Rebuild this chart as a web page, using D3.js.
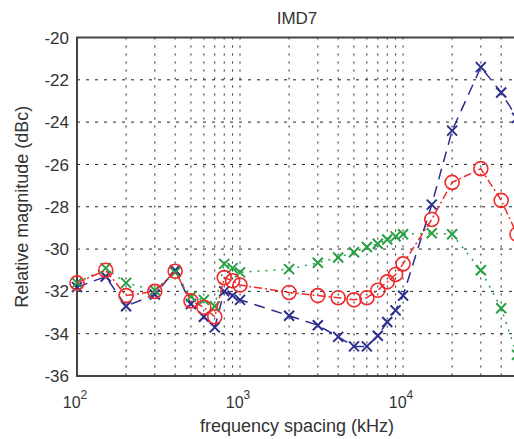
<!DOCTYPE html>
<html>
<head>
<meta charset="utf-8">
<script src="https://cdn.jsdelivr.net/npm/d3@7"></script>
<style>
  body { margin: 0; background: #fff; }
  svg { display: block; font-family: "Liberation Sans", Arial, sans-serif; }
</style>
</head>
<body>
<div id="root"></div>
<script>
const width = 514
const height = 439

// frequency spacing (kHz)
const freq = [100, 150, 200, 300, 400, 500, 600, 700, 800, 900, 1000,
  2000, 3000, 4000, 5000, 6000, 7000, 8000, 9000, 10000,
  15000, 20000, 30000, 40000, 50000]

const blueVals = [-31.8, -31.3, -32.7, -32.15, -31.0, -32.6, -33.2, -33.7, -32.0, -32.2, -32.4,
  -33.15, -33.6, -34.15, -34.6, -34.6, -34.1, -33.45, -32.9, -32.2,
  -27.9, -24.4, -21.4, -22.6, -23.8]
const redVals = [-31.6, -31.0, -32.2, -32.0, -31.05, -32.45, -32.75, -33.2, -31.35, -31.5, -31.7,
  -32.05, -32.2, -32.3, -32.4, -32.3, -31.95, -31.55, -31.2, -30.7,
  -28.6, -26.85, -26.2, -27.7, -29.3]
const greenVals = [-31.6, -30.9, -31.6, -31.95, -31.1, -32.25, -32.4, -32.7, -30.7, -30.9, -31.1,
  -30.95, -30.65, -30.4, -30.15, -29.9, -29.75, -29.55, -29.4, -29.3,
  -29.25, -29.3, -31.0, -32.8, -35.0]

const yTicks = [-20, -22, -24, -26, -28, -30, -32, -34, -36]
const xMajor = [100, 1000, 10000]
const xGrid = [200, 300, 400, 500, 600, 700, 800, 900, 1000,
  2000, 3000, 4000, 5000, 6000, 7000, 8000, 9000, 10000, 20000, 30000, 40000]

const m = { left: 77, top: 37.5, right: 517, bottom: 376 }

const x = d3.scaleLog().domain([100, 50000]).range([m.left, m.right])
const y = d3.scaleLinear().domain([-36, -20]).range([m.bottom, m.top])

const svg = d3.select('#root').append('svg')
  .attr('width', width)
  .attr('height', height)

// grid
svg.append('g').selectAll('line')
  .data(xGrid)
  .enter().append('line')
    .attr('x1', d => x(d)).attr('x2', d => x(d))
    .attr('y1', m.top).attr('y2', m.bottom)
    .attr('stroke', '#222')
    .attr('stroke-width', 1)
    .attr('stroke-dasharray', '2,6')

svg.append('g').selectAll('line')
  .data(yTicks.slice(1, -1))
  .enter().append('line')
    .attr('x1', m.left).attr('x2', m.right)
    .attr('y1', d => y(d)).attr('y2', d => y(d))
    .attr('stroke', '#222')
    .attr('stroke-width', 1)
    .attr('stroke-dasharray', '3,6')

// axes frame
svg.append('path')
  .attr('d', `M${m.right},${m.top}H${m.left}V${m.bottom}H${m.right}`)
  .attr('fill', 'none')
  .attr('stroke', '#444')
  .attr('stroke-width', 2)

// y tick labels
svg.append('g').selectAll('text')
  .data(yTicks)
  .enter().append('text')
    .attr('x', 69)
    .attr('y', d => y(d))
    .attr('dy', '0.36em')
    .attr('text-anchor', 'end')
    .attr('font-size', 17)
    .attr('fill', '#333')
    .text(d => d)

// x tick labels 10^n
const xl = svg.append('g').selectAll('text')
  .data(xMajor)
  .enter().append('text')
    .attr('x', d => x(d) - 2)
    .attr('y', 408)
    .attr('text-anchor', 'middle')
    .attr('font-size', 16)
    .attr('fill', '#333')
xl.append('tspan').text('10')
xl.append('tspan')
  .attr('dy', -9)
  .attr('font-size', 12)
  .text(d => Math.round(Math.log10(d)))

// title and labels
svg.append('text')
  .attr('x', (m.left + m.right) / 2)
  .attr('y', 24)
  .attr('text-anchor', 'middle')
  .attr('font-size', 17)
  .attr('fill', '#333')
  .text('IMD7')

svg.append('text')
  .attr('x', (m.left + m.right) / 2)
  .attr('y', 432)
  .attr('text-anchor', 'middle')
  .attr('font-size', 18)
  .attr('fill', '#333')
  .text('frequency spacing (kHz)')

svg.append('text')
  .attr('transform', `translate(28,${(m.top + m.bottom) / 2}) rotate(-90)`)
  .attr('text-anchor', 'middle')
  .attr('font-size', 18)
  .attr('fill', '#333')
  .text('Relative magnitude (dBc)')

// series
const series = [
  { name: 'blue', vals: blueVals, color: '#2c2e8e', dash: '11,7', marker: 'x' },
  { name: 'green', vals: greenVals, color: '#27a045', dash: '2,6', marker: 'x' },
  { name: 'red', vals: redVals, color: '#ee2a2a', dash: '8,3,2,3', marker: 'o' }
]

const line = d3.line()
  .x(d => x(d.f))
  .y(d => y(d.v))

series.forEach(s => {
  const pts = freq.map((f, i) => ({ f: f, v: s.vals[i] }))
  const g = svg.append('g').attr('class', s.name)
  g.append('path')
    .datum(pts)
    .attr('d', line)
    .attr('fill', 'none')
    .attr('stroke', s.color)
    .attr('stroke-width', 1.5)
    .attr('stroke-dasharray', s.dash)
  if (s.marker === 'o') {
    g.selectAll('circle')
      .data(pts)
      .enter().append('circle')
        .attr('cx', d => x(d.f))
        .attr('cy', d => y(d.v))
        .attr('r', 7)
        .attr('fill', 'none')
        .attr('stroke', s.color)
        .attr('stroke-width', 1.6)
  } else {
    const k = 5
    g.selectAll('path.mk')
      .data(pts)
      .enter().append('path')
        .attr('class', 'mk')
        .attr('d', d => {
          const cx = x(d.f), cy = y(d.v)
          return `M${cx - k},${cy - k}L${cx + k},${cy + k}M${cx - k},${cy + k}L${cx + k},${cy - k}`
        })
        .attr('stroke', s.color)
        .attr('stroke-width', 2)
  }
})
</script>
</body>
</html>
